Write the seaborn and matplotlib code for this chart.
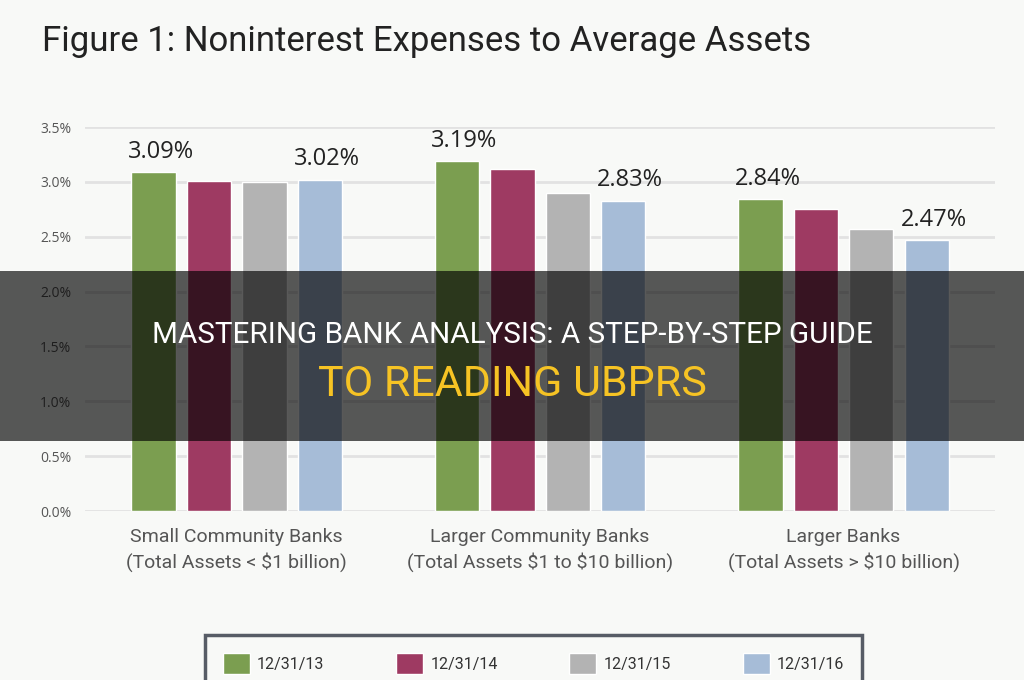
import numpy as np
import pandas as pd
import seaborn as sns
import matplotlib.pyplot as plt
from matplotlib.patches import Rectangle

# data
groups = ["Small Community Banks\n(Total Assets < \\$1 billion)",
          "Larger Community Banks\n(Total Assets \\$1 to \\$10 billion)",
          "Larger Banks\n(Total Assets > \\$10 billion)"]
dates = ["12/31/13", "12/31/14", "12/31/15", "12/31/16"]
v_13 = [3.09, 3.19, 2.84]
v_14 = [3.01, 3.12, 2.75]
v_15 = [3.00, 2.90, 2.57]
v_16 = [3.02, 2.83, 2.47]
colors = ["#7b9e50", "#9e3a62", "#b3b3b3", "#a6bcd7"]

bg = "#f8f9f7"

rows = []
for d, vals in zip(dates, [v_13, v_14, v_15, v_16]):
    for g, v in zip(groups, vals):
        rows.append({"group": g, "date": d, "value": v})
df = pd.DataFrame(rows)

sns.set_theme(style="white")
plt.rcParams["font.family"] = ["Roboto", "DejaVu Sans"]

fig = plt.figure(figsize=(10.24, 6.8), dpi=100, facecolor=bg)
ax = fig.add_axes([0.083, 0.2485, 0.889, 0.5647])
ax.set_facecolor(bg)

sns.barplot(data=df, x="group", y="value", hue="date", palette=colors,
            width=0.73, gap=0.2, saturation=1, ax=ax)
handles, labels = ax.get_legend_handles_labels()
ax.legend_.remove()

ax.set_ylim(0, 3.5)
ax.set_xlim(-0.5, 2.5)
ax.set_yticks(np.arange(0, 3.51, 0.5))
ax.set_yticklabels(["%.1f%%" % t for t in np.arange(0, 3.51, 0.5)],
                   family="Open Sans", fontsize=10, color="#555555")
ax.set_xticklabels(groups, fontsize=14, color="#555555", linespacing=1.4)
ax.tick_params(axis="y", length=0, pad=10)
ax.tick_params(axis="x", length=0, pad=12)
ax.set_xlabel("")
ax.set_ylabel("")
ax.set_axisbelow(True)
ax.yaxis.grid(True, color="#e2e2e2", lw=2)
for s in ax.spines.values():
    s.set_visible(False)

# value labels only on first and last series
for i in [0, 3]:
    anns = ax.bar_label(ax.containers[i],
                        labels=["%.2f%%" % v for v in ax.containers[i].datavalues],
                        padding=6, fontsize=17, family="Open Sans", color="#222222")
    for a in anns:
        a.xyann = (5, a.xyann[1])

fig.text(42 / 1024, 1 - 42 / 680, "Figure 1: Noninterest Expenses to Average Assets",
         fontsize=25, color="#222222", va="center", ha="left")

leg = fig.legend(handles, dates, loc="upper left", ncol=4,
                 bbox_to_anchor=(205 / 1024, 1 - 635 / 680, 657 / 1024, 0.0),
                 mode="expand", borderaxespad=0, borderpad=1.1,
                 handlelength=1.7, handleheight=1.7, handletextpad=0.45,
                 fontsize=11.5, frameon=True, fancybox=False)
leg.get_frame().set_edgecolor("#2f3542")
leg.get_frame().set_linewidth(2.5)
leg.get_frame().set_facecolor(bg)
for t in leg.get_texts():
    t.set_color("#333333")

# overlay banner
fig.add_artist(Rectangle((0, 1 - 441 / 680), 1, 170 / 680, transform=fig.transFigure,
                         facecolor="black", alpha=0.65, edgecolor="none", zorder=10))
fig.text(0.5, 1 - 335 / 680, "MASTERING BANK ANALYSIS: A STEP-BY-STEP GUIDE",
         fontsize=21.3, color="white", ha="center", va="center", zorder=11)
fig.text(0.5, 1 - 385 / 680, "TO READING UBPRS",
         fontsize=31, color="#f6c324", ha="center", va="center", zorder=11)

fig.savefig("out.png", dpi=100, facecolor=bg)
